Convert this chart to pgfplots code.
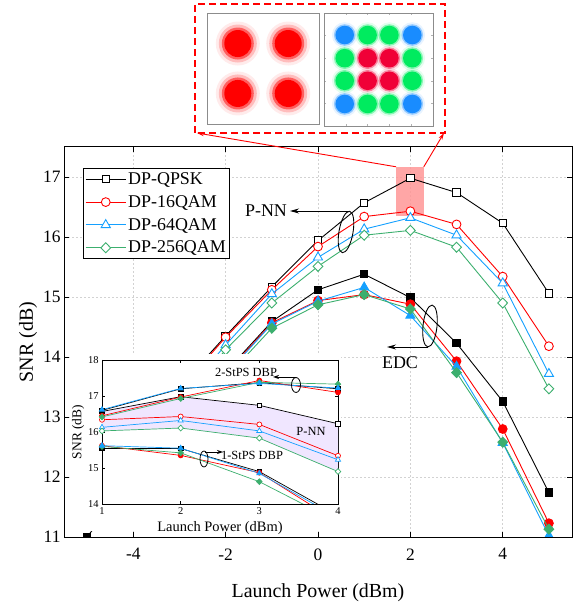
\documentclass[border=0pt]{standalone}
\usepackage{fontspec}
\setmainfont{Liberation Serif}
\usepackage{pgfplots}
\usepackage{pgfplotstable}
\pgfplotsset{compat=1.18}
\usetikzlibrary{arrows.meta}

\definecolor{cblue}{RGB}{20,160,255}
\definecolor{cgreen}{RGB}{60,175,110}
\definecolor{cred}{RGB}{255,0,0}
\definecolor{lav}{RGB}{240,230,255}
\definecolor{qblue}{RGB}{25,140,255}
\definecolor{qgreen}{RGB}{0,235,95}
\definecolor{qred}{RGB}{240,0,55}
\definecolor{gridc}{RGB}{210,210,210}
\definecolor{boxpink}{RGB}{255,150,150}

\pgfplotstableread{
x q16 q q64 q256
-5 11.60 11.70 11.45 11.35
-4 12.50 12.60 12.40 12.30
-3 13.45 13.50 13.30 13.20
-2 14.33 14.35 14.20 14.12
-1 15.12 15.17 15.05 14.90
0 15.84 15.94 15.66 15.51
1 16.34 16.57 16.13 16.03
2 16.43 16.98 16.32 16.11
3 16.21 16.74 16.03 15.83
4 15.34 16.23 15.23 14.90
5 14.18 15.06 13.72 13.47
}\pnn

\pgfplotstableread{
x q q16 q64 q256
-5 11.00 nan nan nan
-4 12.00 11.90 11.85 11.80
-3 12.95 12.90 12.85 12.80
-2 13.75 13.72 13.70 13.65
-1 14.59 14.57 14.55 14.48
0 15.12 14.94 14.93 14.87
1 15.38 15.04 15.16 15.04
2 14.99 14.88 14.69 14.80
3 14.23 13.93 13.84 13.74
4 13.26 12.80 12.57 12.58
5 11.74 11.23 11.02 11.13
}\edc

\pgfplotstableread{
x q q16 q64 q256
1 16.57 16.34 16.13 16.03
2 16.98 16.43 16.32 16.11
3 16.74 16.21 16.03 15.83
4 16.23 15.34 15.23 14.90
}\pnnin

% band between P-NN QPSK (upper) and P-NN 256QAM (lower)
\pgfplotstableread{
x y
1 16.57
2 16.98
3 16.74
4 16.23
4 14.90
3 15.83
2 16.11
1 16.03
}\band

\pgfplotstableread{
x q q16 q64 q256
1 16.60 16.45 16.62 16.42
2 17.20 16.97 17.21 16.93
3 17.37 17.43 17.35 17.38
4 17.20 17.10 17.22 17.33
}\dbptwo

\pgfplotstableread{
x q q16 q64 q256
1 15.54 15.62 15.62 15.60
2 15.54 15.35 15.55 15.42
3 14.90 14.87 14.85 14.62
4 13.68 13.50 13.62 13.50
}\dbpone

\pgfplotstableread{
x y
-0.45 0.45
0.45 0.45
-0.45 -0.45
0.45 -0.45
}\qpsk

\pgfplotstableread{
x y
-0.62 0.61
0.62 0.61
-0.62 -0.61
0.62 -0.61
}\qamb

\pgfplotstableread{
x y
-0.2 0.61
0.2 0.61
-0.2 -0.61
0.2 -0.61
-0.62 0.2
-0.62 -0.2
0.62 0.2
0.62 -0.2
}\qamg

\pgfplotstableread{
x y
-0.2 0.2
0.2 0.2
-0.2 -0.2
0.2 -0.2
}\qamr

\pgfplotsset{
  sqO/.style={black, line width=0.9bp, mark=square*, mark size=3.7bp, mark options={solid, fill=white}},
  ciO/.style={cred, line width=0.9bp, mark=*, mark size=4.4bp, mark options={solid, fill=white}},
  trO/.style={cblue, line width=0.9bp, mark=triangle*, mark size=5.3bp, mark options={solid, fill=white}},
  diO/.style={cgreen, line width=0.9bp, mark=diamond*, mark size=5bp, mark options={solid, fill=white, xscale=1.3}},
  sqF/.style={black, line width=0.9bp, mark=square*, mark size=3.7bp, mark options={solid, fill=black}},
  ciF/.style={cred, line width=0.9bp, mark=*, mark size=4.4bp, mark options={solid, fill=cred}},
  trF/.style={cblue, line width=0.9bp, mark=triangle*, mark size=5.3bp, mark options={solid, fill=cblue}},
  diF/.style={cgreen, line width=0.9bp, mark=diamond*, mark size=5bp, mark options={solid, fill=cgreen, xscale=1.3}},
  isqO/.style={black, line width=0.7bp, mark=square*, mark size=2.2bp, mark options={solid, fill=white}},
  iciO/.style={cred, line width=0.7bp, mark=*, mark size=2.5bp, mark options={solid, fill=white}},
  itrO/.style={cblue, line width=0.7bp, mark=triangle*, mark size=3bp, mark options={solid, fill=white}},
  idiO/.style={cgreen, line width=0.7bp, mark=diamond*, mark size=2.9bp, mark options={solid, fill=white, xscale=1.3}},
  isqF/.style={black, line width=0.7bp, mark=square*, mark size=2.2bp, mark options={solid, fill=black}},
  iciF/.style={cred, line width=0.7bp, mark=*, mark size=2.5bp, mark options={solid, fill=cred}},
  itrF/.style={cblue, line width=0.7bp, mark=triangle*, mark size=3bp, mark options={solid, fill=cblue}},
  idiF/.style={cgreen, line width=0.7bp, mark=diamond*, mark size=2.9bp, mark options={solid, fill=cgreen, xscale=1.3}},
  cloud/.style n args={3}{only marks, mark=*, mark size=#1, forget plot, color=#2,
     mark options={draw opacity=0, line width=0pt, fill=#2, fill opacity=#3}},
}

\begin{document}
\begin{tikzpicture}
\path[use as bounding box] (0bp,0bp) rectangle (585bp,604bp);

% ---------------- main axis ----------------
\begin{axis}[
  at={(64bp,67bp)}, anchor=south west,
  scale only axis, width=508bp, height=390bp,
  xmin=-5.5, xmax=5.5, ymin=11, ymax=17.5,
  xtick={-4,-2,0,2,4}, ytick={11,12,13,14,15,16,17},
  tick align=inside, tick pos=both, major tick length=5bp,
  every tick/.style={black, line width=0.9bp},
  axis line style={line width=1bp},
  grid=major, grid style={gridc, dash pattern=on 2bp off 2bp, line width=0.5bp},
  clip marker paths=true,
  /pgf/number format/assume math mode=true,
  ticklabel style={font=\fontsize{17.5}{17.5}\selectfont},
  xticklabel style={yshift=-8bp},
  xlabel={Launch Power (dBm)}, ylabel={SNR (dB)},
  label style={font=\fontsize{20}{20}\selectfont},
  xlabel style={yshift=-17bp},
  ylabel style={yshift=-1bp},
  legend style={at={(rel axis cs:0.037,0.946)}, anchor=north west, draw=black, line width=1bp,
    font=\fontsize{18}{18}\selectfont, inner xsep=2bp, inner ysep=2bp, row sep=5.5bp},
  legend cell align=left,
  legend image code/.code={\draw[mark repeat=2,mark phase=2] plot coordinates {(0bp,0bp) (20bp,0bp) (40bp,0bp)};},
]
\fill[boxpink, opacity=0.85] (axis cs:1.69,16.35) rectangle (axis cs:2.29,17.17);
\coordinate (rtl) at (axis cs:1.69,17.17);
\coordinate (rtr) at (axis cs:2.29,17.17);

\addplot[sqO] table[x=x,y=q] {\pnn};
\addplot[ciO] table[x=x,y=q16] {\pnn};
\addplot[trO] table[x=x,y=q64] {\pnn};
\addplot[diO] table[x=x,y=q256] {\pnn};
\legend{DP-QPSK,DP-16QAM,DP-64QAM,DP-256QAM}

\addplot[sqF, forget plot] table[x=x,y=q] {\edc};
\addplot[ciF, forget plot] table[x=x,y=q16] {\edc};
\addplot[trF, forget plot] table[x=x,y=q64] {\edc};
\addplot[diF, forget plot] table[x=x,y=q256] {\edc};

\fill[white] (axis cs:-5.37,11.1) rectangle (axis cs:0.5,14.05);
\addplot[sqF, only marks, forget plot] coordinates {(-5,11.0)};
\end{axis}

% ---------------- inset ----------------
\begin{axis}[
  at={(102bp,100bp)}, anchor=south west,
  scale only axis, width=236bp, height=144bp,
  xmin=1, xmax=4, ymin=14, ymax=18,
  xtick={1,2,3,4}, ytick={14,15,16,17,18},
  tick align=inside, tick pos=both, major tick length=3bp,
  every tick/.style={black, line width=0.7bp},
  axis line style={line width=0.9bp},
  /pgf/number format/assume math mode=true,
  ticklabel style={font=\fontsize{10.5}{10.5}\selectfont},
  xlabel={Launch Power (dBm)}, ylabel={SNR (dB)},
  xlabel style={font=\fontsize{14.5}{14.5}\selectfont, yshift=0bp},
  ylabel style={font=\fontsize{13.5}{13.5}\selectfont, yshift=-3bp},
]
\addplot[fill=lav, draw=none, forget plot] table {\band} -- cycle;

\addplot[isqO] table[x=x,y=q] {\pnnin};
\addplot[iciO] table[x=x,y=q16] {\pnnin};
\addplot[itrO] table[x=x,y=q64] {\pnnin};
\addplot[idiO] table[x=x,y=q256] {\pnnin};

\addplot[isqF] table[x=x,y=q] {\dbptwo};
\addplot[iciF] table[x=x,y=q16] {\dbptwo};
\addplot[idiF] table[x=x,y=q256] {\dbptwo};
\addplot[itrF] table[x=x,y=q64] {\dbptwo};

\addplot[isqF] table[x=x,y=q] {\dbpone};
\addplot[iciF] table[x=x,y=q16] {\dbpone};
\addplot[idiF] table[x=x,y=q256] {\dbpone};
\addplot[itrF] table[x=x,y=q64] {\dbpone};
\end{axis}

% inset annotations
\node[font=\fontsize{12.5}{12.5}\selectfont, inner sep=0pt] at (246bp,232bp) {2-StPS DBP};
\draw[line width=0.8bp] (296bp,219bp) ellipse [x radius=4.5bp, y radius=7.5bp];
\draw[line width=0.8bp, -{Stealth[length=6bp,width=4bp]}] (296bp,227bp) -- (273bp,227bp);
\node[font=\fontsize{12.5}{12.5}\selectfont, inner sep=0pt] at (311bp,173bp) {P-NN};
\node[font=\fontsize{12.5}{12.5}\selectfont, inner sep=0pt] at (252bp,149bp) {1-StPS DBP};
\draw[line width=0.8bp] (204bp,145bp) ellipse [x radius=4bp, y radius=8bp];
\draw[line width=0.8bp, -{Stealth[length=6bp,width=4bp]}] (205bp,152bp) -- (223bp,152bp);

% main annotations
\node[font=\fontsize{18}{18}\selectfont, inner sep=0pt] at (266bp,393bp) {P-NN};
\draw[line width=0.9bp, rotate around={-10:(346bp,372bp)}] (346bp,372bp) ellipse [x radius=7bp, y radius=21bp];
\draw[line width=0.9bp, -{Stealth[length=9bp,width=5bp]}] (349bp,393bp) -- (290bp,393bp);
\node[font=\fontsize{18}{18}\selectfont, inner sep=0pt] at (400bp,241bp) {EDC};
\draw[line width=0.9bp, rotate around={-6:(430bp,278bp)}] (430bp,278bp) ellipse [x radius=7bp, y radius=21bp];
\draw[line width=0.9bp, -{Stealth[length=9bp,width=5bp]}] (428bp,257bp) -- (387bp,257bp);

% ---------------- constellations ----------------
\begin{axis}[
  at={(207bp,480bp)}, anchor=south west,
  scale only axis, width=112bp, height=111bp,
  xmin=-1, xmax=1, ymin=-1, ymax=1,
  xtick=\empty, ytick=\empty,
  axis line style={draw=black!45, line width=0.8bp},
]
\addplot[cloud={22bp}{cred}{0.08}] table {\qpsk};
\addplot[cloud={19bp}{cred}{0.2}] table {\qpsk};
\addplot[cloud={16bp}{cred}{0.5}] table {\qpsk};
\addplot[cloud={13.5bp}{cred}{1}] table {\qpsk};
\end{axis}

\begin{axis}[
  at={(324bp,478bp)}, anchor=south west,
  scale only axis, width=109bp, height=113bp,
  xmin=-1, xmax=1, ymin=-1, ymax=1,
  xtick={-0.6,-0.2,0.2,0.6}, ytick={-0.6,-0.2,0.2,0.6},
  xticklabels={}, yticklabels={},
  tick align=inside, tick pos=both, major tick length=2bp,
  every tick/.style={black!30, line width=0.4bp},
  axis line style={draw=black!45, line width=0.8bp},
]
\addplot[cloud={12.8bp}{qblue}{0.1}] table {\qamb};
\addplot[cloud={12.8bp}{qgreen}{0.1}] table {\qamg};
\addplot[cloud={12.8bp}{qred}{0.1}] table {\qamr};
\addplot[cloud={10.8bp}{qblue}{0.4}] table {\qamb};
\addplot[cloud={10.8bp}{qgreen}{0.4}] table {\qamg};
\addplot[cloud={10.8bp}{qred}{0.4}] table {\qamr};
\addplot[cloud={9.3bp}{qblue}{1}] table {\qamb};
\addplot[cloud={9.3bp}{qgreen}{1}] table {\qamg};
\addplot[cloud={9.3bp}{qred}{1}] table {\qamr};
\end{axis}

\draw[cred, line width=1.1bp, dash pattern=on 7bp off 4bp] (195bp,471bp) rectangle (445bp,600bp);
\draw[cred, line width=0.9bp, -{Stealth[length=7bp,width=4bp]}] (rtl) -- (197bp,471bp);
\draw[cred, line width=0.9bp, -{Stealth[length=7bp,width=4bp]}] (rtr) -- (444bp,471bp);
\end{tikzpicture}
\end{document}
